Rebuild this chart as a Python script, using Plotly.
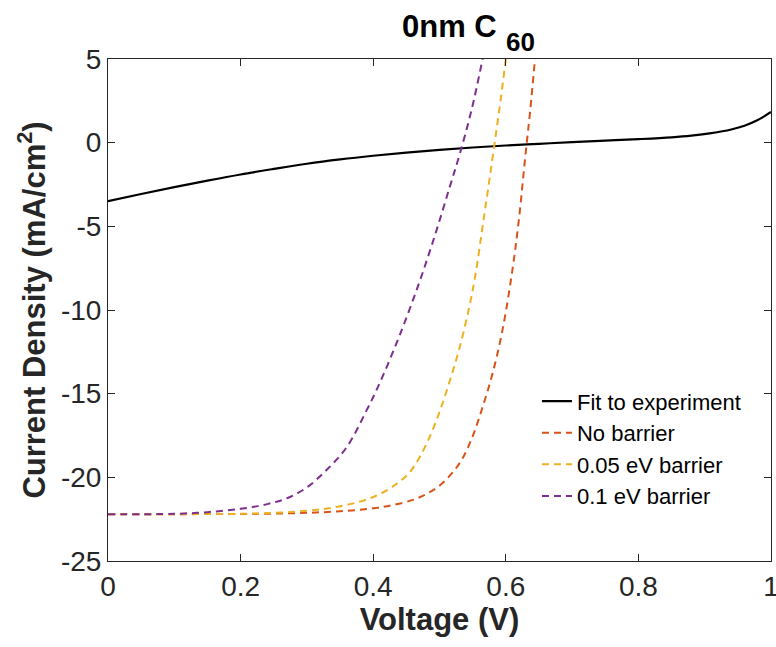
import plotly.graph_objects as go

# ---- data ----
fit_v = [0, 0.05, 0.1, 0.15, 0.2, 0.25, 0.3, 0.35, 0.4, 0.45, 0.5, 0.55, 0.6, 0.65, 0.7, 0.75, 0.8, 0.85, 0.88, 0.91, 0.94, 0.96, 0.98, 1.0]
fit_j = [-3.50, -3.07, -2.66, -2.27, -1.90, -1.57, -1.26, -1.00, -0.78, -0.59, -0.43, -0.29, -0.17, -0.07, 0.03, 0.12, 0.21, 0.32, 0.42, 0.57, 0.79, 1.01, 1.35, 1.83]

nob_v = [0, 0.1, 0.2, 0.25, 0.3, 0.35, 0.4, 0.43, 0.46, 0.48, 0.5, 0.52, 0.535, 0.55, 0.565, 0.58, 0.595, 0.61, 0.62, 0.63, 0.637, 0.644]
nob_j = [-22.2, -22.2, -22.19, -22.17, -22.12, -22.03, -21.85, -21.65, -21.35, -21.0, -20.5, -19.7, -18.85, -17.55, -15.8, -13.8, -11.2, -7.6, -4.5, -0.6, 2.0, 5.0]

b05_v = [0, 0.1, 0.2, 0.25, 0.3, 0.34, 0.38, 0.41, 0.435, 0.455, 0.47, 0.485, 0.5, 0.515, 0.53, 0.545, 0.555, 0.565, 0.575, 0.585, 0.593, 0.600]
b05_j = [-22.2, -22.2, -22.18, -22.12, -22.0, -21.8, -21.45, -21.0, -20.4, -19.7, -18.8, -17.6, -16.1, -14.3, -12.3, -9.8, -7.7, -5.0, -2.3, 0.5, 2.8, 5.0]

b10_v = [0, 0.1, 0.15, 0.2, 0.24, 0.27, 0.3, 0.33, 0.36, 0.39, 0.41, 0.44, 0.47, 0.495, 0.515, 0.53, 0.548, 0.565]
b10_j = [-22.2, -22.18, -22.08, -21.88, -21.6, -21.25, -20.6, -19.55, -18.2, -16.0, -14.35, -11.5, -8.3, -5.3, -2.7, -0.75, 1.9, 5.0]

series_names = ["Fit to experiment", "No barrier", "0.05 eV barrier", "0.1 eV barrier"]
x_ticks = [0, 0.2, 0.4, 0.6, 0.8, 1]
x_ticklabels = ["0", "0.2", "0.4", "0.6", "0.8", "1"]
y_ticks = [5, 0, -5, -10, -15, -20, -25]
y_ticklabels = ["5", "0", "-5", "-10", "-15", "-20", "-25"]

FONT = "Liberation Sans, Arial, Helvetica, sans-serif"
AX = "#262626"

fig = go.Figure()
fig.add_trace(go.Scatter(x=fit_v, y=fit_j, mode="lines", name=series_names[0],
                         line=dict(color="black", width=2.2, shape="spline", smoothing=1.0)))
fig.add_trace(go.Scatter(x=nob_v, y=nob_j, mode="lines", name=series_names[1],
                         line=dict(color="#D95319", width=2, dash="7px,5px", shape="spline", smoothing=1.0)))
fig.add_trace(go.Scatter(x=b05_v, y=b05_j, mode="lines", name=series_names[2],
                         line=dict(color="#EDB120", width=2, dash="7px,5px", shape="spline", smoothing=1.0)))
fig.add_trace(go.Scatter(x=b10_v, y=b10_j, mode="lines", name=series_names[3],
                         line=dict(color="#7E2F8E", width=2, dash="7px,5px", shape="spline", smoothing=1.0)))

axis_common = dict(showgrid=False, zeroline=False, showline=True, linecolor=AX, linewidth=1,
                   mirror="ticks", ticks="inside", ticklen=7, tickcolor=AX, tickwidth=1,
                   ticklabeloverflow="allow", automargin=False,
                   tickfont=dict(family=FONT, size=28, color="#262626"))

fig.update_layout(
    width=776, height=647,
    margin=dict(l=108, r=5, t=58.5, b=86),
    paper_bgcolor="white", plot_bgcolor="white",
    font=dict(family=FONT, color="#262626"),
    xaxis=dict(range=[0, 1], tickvals=x_ticks, ticktext=x_ticklabels,
               title=dict(text="<b>Voltage (V)</b>", font=dict(family=FONT, size=31, color="#262626"), standoff=4),
               **axis_common),
    yaxis=dict(range=[-25, 5], tickvals=y_ticks, ticktext=y_ticklabels,
               title=dict(text="<b>Current Density (mA/cm<sup>2</sup>)</b>", font=dict(family=FONT, size=31, color="#262626"), standoff=6),
               **axis_common),
    legend=dict(x=0.647, y=0.36, xanchor="left", yanchor="top", bgcolor="rgba(0,0,0,0)",
                borderwidth=0, font=dict(family=FONT, size=22, color="black"),
                itemwidth=30, tracegroupgap=0),
    showlegend=True,
)

fig.add_annotation(text="<b>0nm C</b>", xref="paper", yref="paper", x=0.590, y=1.0647,
                   xanchor="right", yanchor="middle", showarrow=False,
                   font=dict(family=FONT, size=31, color="black"))
fig.add_annotation(text="<b>60</b>", xref="paper", yref="paper", x=0.597, y=1.0338,
                   xanchor="left", yanchor="middle", showarrow=False,
                   font=dict(family=FONT, size=26, color="black"))

fig.write_html("out.html")
